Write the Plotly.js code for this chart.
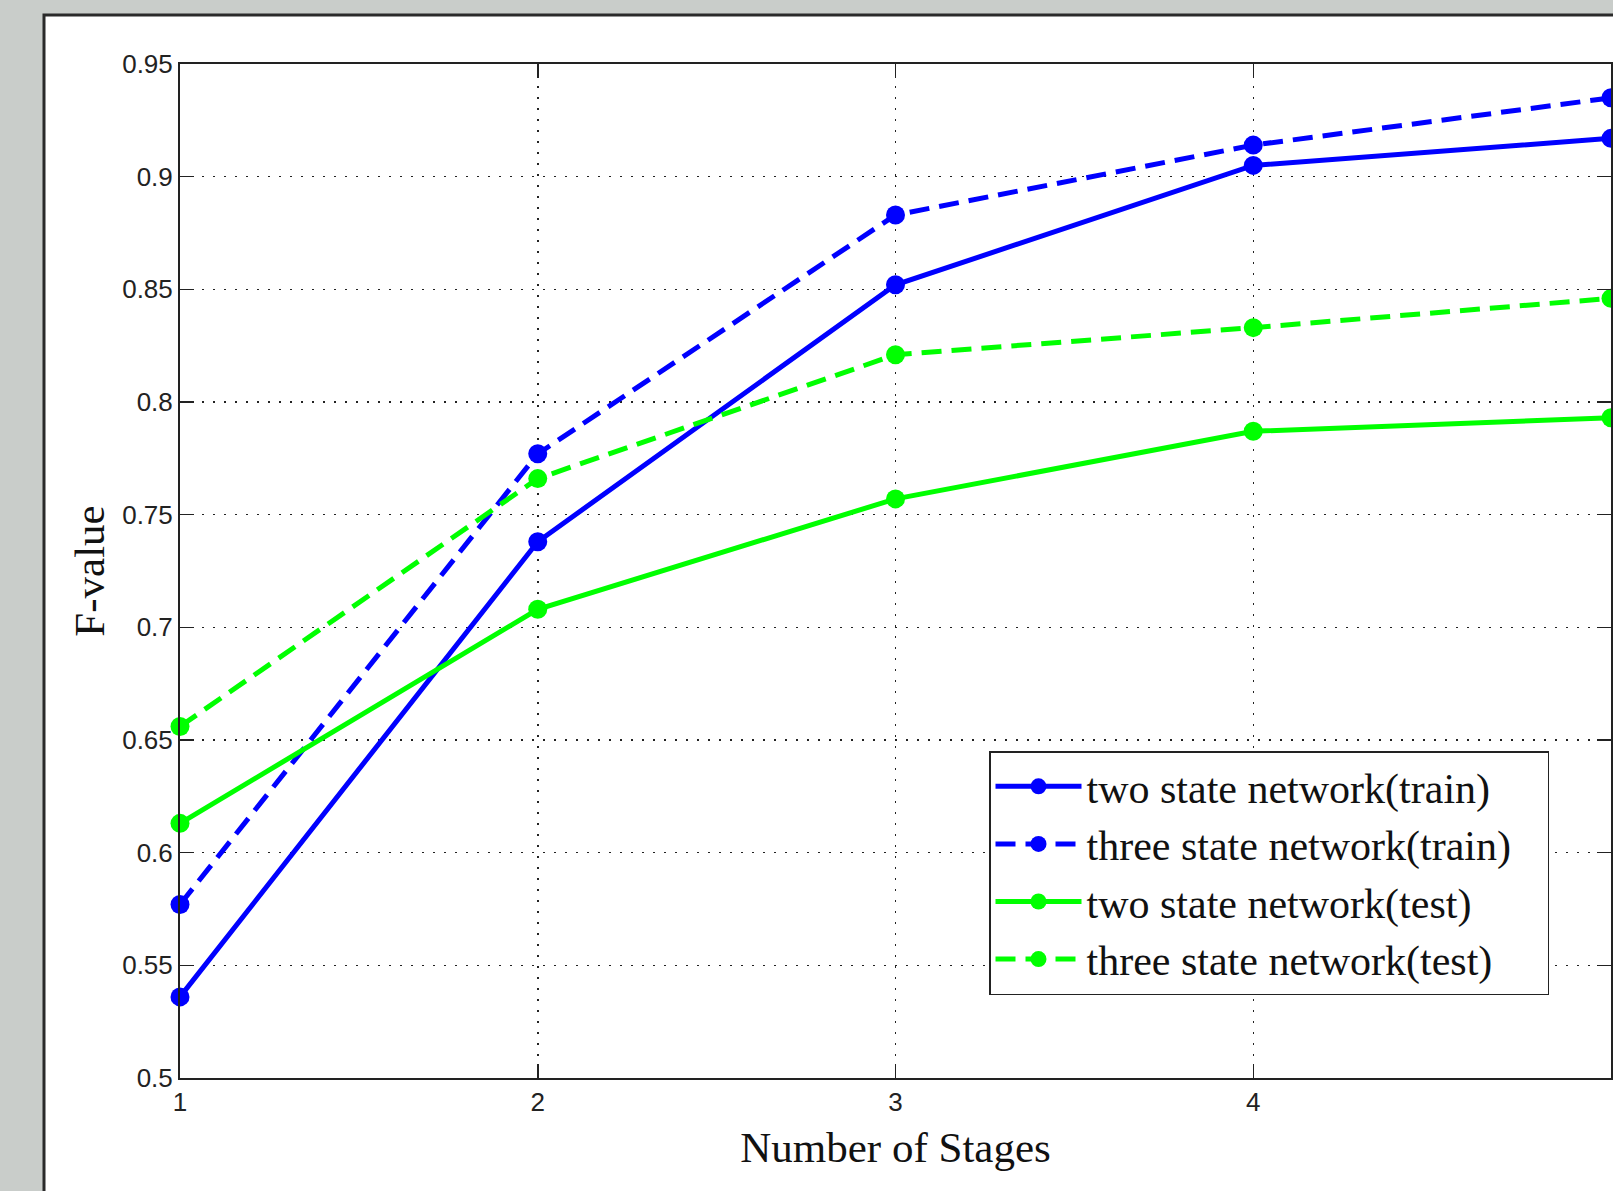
<!DOCTYPE html>
<html>
<head>
<meta charset="utf-8">
<script src="https://cdn.plot.ly/plotly-3.0.1.min.js"></script>
<style>
  html, body { margin: 0; padding: 0; background: #c9cdca; }
  #chart { width: 1613px; height: 1191px; }
</style>
</head>
<body>
<div id="chart"></div>
<script>
// ---- data ----
const stages = [1, 2, 3, 4, 5];
const twoStateTrain   = [0.536, 0.738, 0.852, 0.905, 0.917];
const threeStateTrain = [0.577, 0.777, 0.883, 0.914, 0.935];
const twoStateTest    = [0.613, 0.708, 0.757, 0.787, 0.793];
const threeStateTest  = [0.656, 0.766, 0.821, 0.833, 0.846];
const seriesNames = [
  'two state network(train)',
  'three state network(train)',
  'two state network(test)',
  'three state network(test)'
];
const yTickVals = [0.5, 0.55, 0.6, 0.65, 0.7, 0.75, 0.8, 0.85, 0.9, 0.95];
const yTickText = ['0.5', '0.55', '0.6', '0.65', '0.7', '0.75', '0.8', '0.85', '0.9', '0.95'];
const xTickVals = [1, 2, 3, 4, 5];
const xTickText = ['1', '2', '3', '4', '5'];

const BLUE = '#0000ff';
const GREEN = '#00ff00';
const DASH = '20px,10px';
const PAD = '\u00a0\u00a0\u00a0';

function mk(y, name, color, dash) {
  return {
    x: stages, y: y, name: name + PAD, type: 'scatter', mode: 'lines+markers',
    line: { color: color, width: 5, dash: dash },
    marker: { color: color, size: 19, symbol: 'circle' },
    cliponaxis: false
  };
}

const traces = [
  mk(twoStateTrain, seriesNames[0], BLUE, 'solid'),
  mk(threeStateTrain, seriesNames[1], BLUE, DASH),
  mk(twoStateTest, seriesNames[2], GREEN, 'solid'),
  mk(threeStateTest, seriesNames[3], GREEN, DASH)
];

const L = 180, R = 2, T = 64, B = 113;
const W = 1613, H = 1191;
const pw = W - L - R, ph = H - T - B;

const layout = {
  width: W, height: H,
  margin: { l: L, r: R, t: T, b: B, pad: 0 },
  paper_bgcolor: '#c9cdca',
  plot_bgcolor: '#ffffff',
  showlegend: true,
  font: { family: 'Liberation Sans, Arial, sans-serif', color: '#111' },
  xaxis: {
    range: [1, 5],
    tickvals: xTickVals, ticktext: xTickText,
    ticks: 'inside', ticklen: 14, tickwidth: 1.5, tickcolor: '#222',
    showline: true, linecolor: '#222', linewidth: 2, mirror: 'ticks',
    showgrid: true, gridcolor: '#222', gridwidth: 1.5, griddash: '2px,9px',
    zeroline: false,
    tickfont: { family: 'Liberation Sans, Arial, sans-serif', size: 26, color: '#222' },
    ticklabelstandoff: 0,
    title: { text: 'Number of Stages', font: { family: 'Liberation Serif, Times New Roman, serif', size: 43, color: '#111' }, standoff: 16 }
  },
  yaxis: {
    range: [0.5, 0.95],
    tickvals: yTickVals, ticktext: yTickText,
    ticks: 'inside', ticklen: 14, tickwidth: 1.5, tickcolor: '#222',
    showline: true, linecolor: '#222', linewidth: 2, mirror: 'ticks',
    showgrid: true, gridcolor: '#222', gridwidth: 1.5, griddash: '2px,9px',
    zeroline: false,
    tickfont: { family: 'Liberation Sans, Arial, sans-serif', size: 26, color: '#222' },
    ticklabelstandoff: 0,
    title: { text: 'F-value', font: { family: 'Liberation Serif, Times New Roman, serif', size: 43, color: '#111' }, standoff: 4 }
  },
  legend: {
    x: (989 - L) / pw, y: (H - B - 751) / ph, xanchor: 'left', yanchor: 'top',
    bgcolor: '#ffffff', bordercolor: '#222', borderwidth: 1.5,
    font: { family: 'Liberation Serif, Times New Roman, serif', size: 42, color: '#111' },
    itemwidth: 86, tracegroupgap: 0
  },
  shapes: [{
    type: 'rect', xref: 'paper', yref: 'paper', layer: 'below',
    x0: (44 - L) / pw, x1: 1.2, y0: -0.3, y1: (H - B - 15) / ph,
    fillcolor: '#ffffff', line: { color: '#2a2a2a', width: 3 }
  }]
};

Plotly.newPlot('chart', traces, layout, { displayModeBar: false, staticPlot: true });
</script>
</body>
</html>
